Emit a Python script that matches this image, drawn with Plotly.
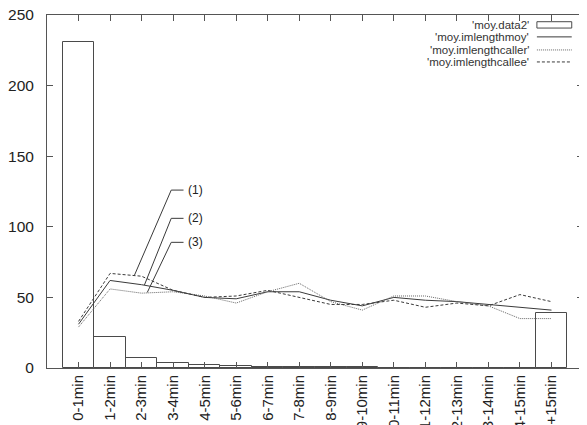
import plotly.graph_objects as go

categories = ["0-1min", "1-2min", "2-3min", "3-4min", "4-5min", "5-6min", "6-7min",
              "7-8min", "8-9min", "9-10min", "10-11min", "11-12min", "12-13min",
              "13-14min", "14-15min", "+15min"]
data2 = [231, 22, 7, 3.8, 2.1, 1.5, 1.0, 0.8, 0.6, 0.5, 0.3, 0.2, 0.2, 0.2, 0.2, 39]
imlengthmoy = [31, 62, 59, 55, 50, 49, 54, 54, 48, 44, 50, 48, 47, 45, 43, 41]
imlengthcaller = [29, 56, 53, 54, 51, 46, 54, 60, 47, 41, 51, 51, 47, 44, 35, 35]
imlengthcallee = [33, 67, 65, 55, 50, 51, 55, 50, 45, 45, 48, 43, 46, 44, 52, 47]
yticks = [0, 50, 100, 150, 200, 250]

idx = list(range(len(categories)))
ink = "#3a3a3a"
font = "Liberation Sans, Arial, sans-serif"

fig = go.Figure()
fig.add_trace(go.Bar(x=idx, y=data2, width=1, marker=dict(color="rgba(255,255,255,0)",
                     line=dict(color="#4a4a4a", width=1)), showlegend=False))
fig.add_trace(go.Scatter(x=idx, y=imlengthmoy, mode="lines",
                         line=dict(color=ink, width=1), showlegend=False))
fig.add_trace(go.Scatter(x=idx, y=imlengthcaller, mode="lines",
                         line=dict(color="#666", width=1, dash="1px,1px"), showlegend=False))
fig.add_trace(go.Scatter(x=idx, y=imlengthcallee, mode="lines",
                         line=dict(color=ink, width=1, dash="3px,2px"), showlegend=False))

# callout labels (1), (2), (3)
callouts = [("(1)", 1.77, 65.5, 126), ("(2)", 2.09, 58.8, 106), ("(3)", 2.18, 53.5, 89)]
for lab, tx, ty, ly in callouts:
    fig.add_shape(type="path", xref="x", yref="y",
                  path=f"M {tx},{ty} L 2.94,{ly} L 3.33,{ly}",
                  line=dict(color=ink, width=1))
    fig.add_annotation(x=3.40, y=ly, text=lab, showarrow=False, xanchor="left",
                       xref="x", yref="y", font=dict(size=12, color="#222", family=font))

# gnuplot-style legend (text right-aligned, sample on the right)
legend_items = [("'moy.data2'", "box"), ("'moy.imlengthmoy'", "solid"),
                ("'moy.imlengthcaller'", "1px,1px"), ("'moy.imlengthcallee'", "3px,2px")]
rows = [0.972, 0.938, 0.901, 0.867]
for (name, style), yy in zip(legend_items, rows):
    fig.add_annotation(x=0.903, y=yy, xref="paper", yref="paper", text=name,
                       showarrow=False, xanchor="right", yanchor="middle",
                       font=dict(size=11.5, color="#333", family=font))
    if style == "box":
        fig.add_shape(type="rect", xref="paper", yref="paper", x0=0.914, x1=0.979,
                      y0=yy - 0.009, y1=yy + 0.009, line=dict(color="#4a4a4a", width=1))
    else:
        fig.add_shape(type="line", xref="paper", yref="paper", x0=0.914, x1=0.979,
                      y0=yy, y1=yy,
                      line=dict(color="#666" if style == "1px,1px" else ink, width=1,
                                dash=style))

fig.update_layout(
    width=587, height=425,
    margin=dict(l=39, r=12, t=7, b=65, autoexpand=False),
    paper_bgcolor="white", plot_bgcolor="white",
    bargap=0,
    font=dict(family=font, color="#222"),
    xaxis=dict(range=[-1, 16], tickmode="array", tickvals=idx, ticktext=categories,
               tickangle=-90, ticks="inside", ticklen=6, tickcolor="#555",
               showline=True, linecolor="#555", linewidth=1, mirror="ticks",
               showgrid=False, zeroline=False, tickfont=dict(size=15, color="#222"),
               automargin=False),
    yaxis=dict(range=[0, 250], tickmode="array", tickvals=yticks,
               ticks="inside", ticklen=6, tickcolor="#555",
               showline=True, linecolor="#555", linewidth=1, mirror="ticks",
               showgrid=False, zeroline=False, tickfont=dict(size=15.5, color="#222"),
               ticklabelstandoff=9, ticklabeloverflow="allow", automargin=False),
)

fig.write_html("out.html")
